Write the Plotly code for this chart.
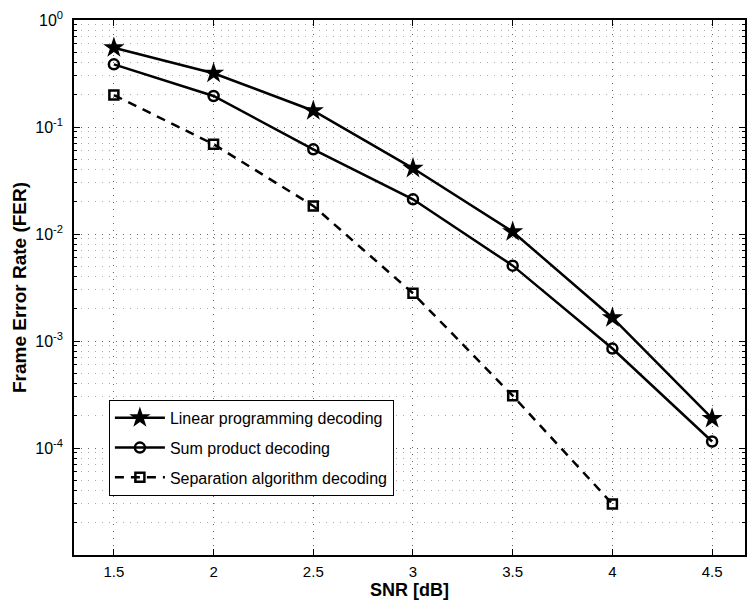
import plotly.graph_objects as go

snr = [1.5, 2.0, 2.5, 3.0, 3.5, 4.0, 4.5]
fer_lp = [0.55, 0.318, 0.142, 0.0411, 0.0105, 0.00165, 1.89e-4]
fer_sp = [0.385, 0.195, 0.0618, 0.0211, 0.00506, 8.5e-4, 1.15e-4]
snr_sep = [1.5, 2.0, 2.5, 3.0, 3.5, 4.0]
fer_sep = [0.199, 0.069, 0.0183, 0.00279, 3.08e-4, 3.0e-5]

names = ["Linear programming decoding", "Sum product decoding", "Separation algorithm decoding"]
x_ticks = [1.5, 2, 2.5, 3, 3.5, 4, 4.5]
x_ticktext = ["1.5", "2", "2.5", "3", "3.5", "4", "4.5"]
y_ticks = [1, 0.1, 0.01, 0.001, 1e-4, 1e-5]
y_ticktext = ["10<sup>0</sup>", "10<sup>-1</sup>", "10<sup>-2</sup>", "10<sup>-3</sup>", "10<sup>-4</sup>", ""]

fig = go.Figure()
fig.add_trace(go.Scatter(
    x=snr, y=fer_lp, name=names[0], mode="lines+markers", legendgroup="a",
    line=dict(color="black", width=2.5),
    marker=dict(symbol="star", size=16, color="black", line=dict(width=0))))
fig.add_trace(go.Scatter(
    x=snr, y=fer_sp, name=names[1], mode="lines+markers", legendgroup="b",
    line=dict(color="black", width=2.5),
    marker=dict(symbol="circle-open", size=10, color="black", line=dict(width=2.5))))
fig.add_trace(go.Scatter(
    x=snr_sep, y=fer_sep, name=names[2], mode="lines+markers", legendgroup="c",
    line=dict(color="black", width=2.5, dash="9px,7px"),
    marker=dict(symbol="square-open", size=9, color="black", line=dict(width=2.5))))

font_family = "Liberation Sans, Arial, Helvetica, sans-serif"

fig.update_layout(
    width=747, height=602,
    margin=dict(l=74, r=0, t=20, b=47),
    paper_bgcolor="white", plot_bgcolor="white",
    font=dict(family=font_family, size=15, color="black"),
    showlegend=True,
    legend=dict(
        x=0.052, y=0.29, xanchor="left", yanchor="top",
        bgcolor="white", bordercolor="black", borderwidth=1,
        font=dict(size=16, family=font_family, color="black"),
        tracegroupgap=6, itemwidth=50),
)

fig.update_xaxes(
    range=[1.3, 4.665],
    tickvals=x_ticks, ticktext=x_ticktext,
    ticks="inside", ticklen=6, tickcolor="black", tickwidth=1,
    ticklabelstandoff=2,
    showline=True, linecolor="black", linewidth=1.5, mirror="ticks",
    showgrid=True, gridcolor="#666", griddash="1px,6px", gridwidth=1,
    zeroline=False,
    tickfont=dict(size=15),
    title=dict(text="<b>SNR [dB]</b>", font=dict(size=18), standoff=3),
)

fig.update_yaxes(
    type="log", range=[-5, 0],
    tickvals=y_ticks, ticktext=y_ticktext,
    ticks="inside", ticklen=6, tickcolor="black", tickwidth=1,
    ticklabelstandoff=6,
    showline=True, linecolor="black", linewidth=1.5, mirror="ticks",
    showgrid=True, gridcolor="#666", griddash="1px,6px", gridwidth=1,
    minor=dict(ticks="inside", ticklen=3, tickcolor="black",
               showgrid=True, gridcolor="#aaa", griddash="1px,6px", gridwidth=1,
               dtick="D1"),
    zeroline=False,
    tickfont=dict(size=16),
    title=dict(text="<b>Frame Error Rate (FER)</b>", font=dict(size=19), standoff=4),
)

fig.write_html("out.html")
